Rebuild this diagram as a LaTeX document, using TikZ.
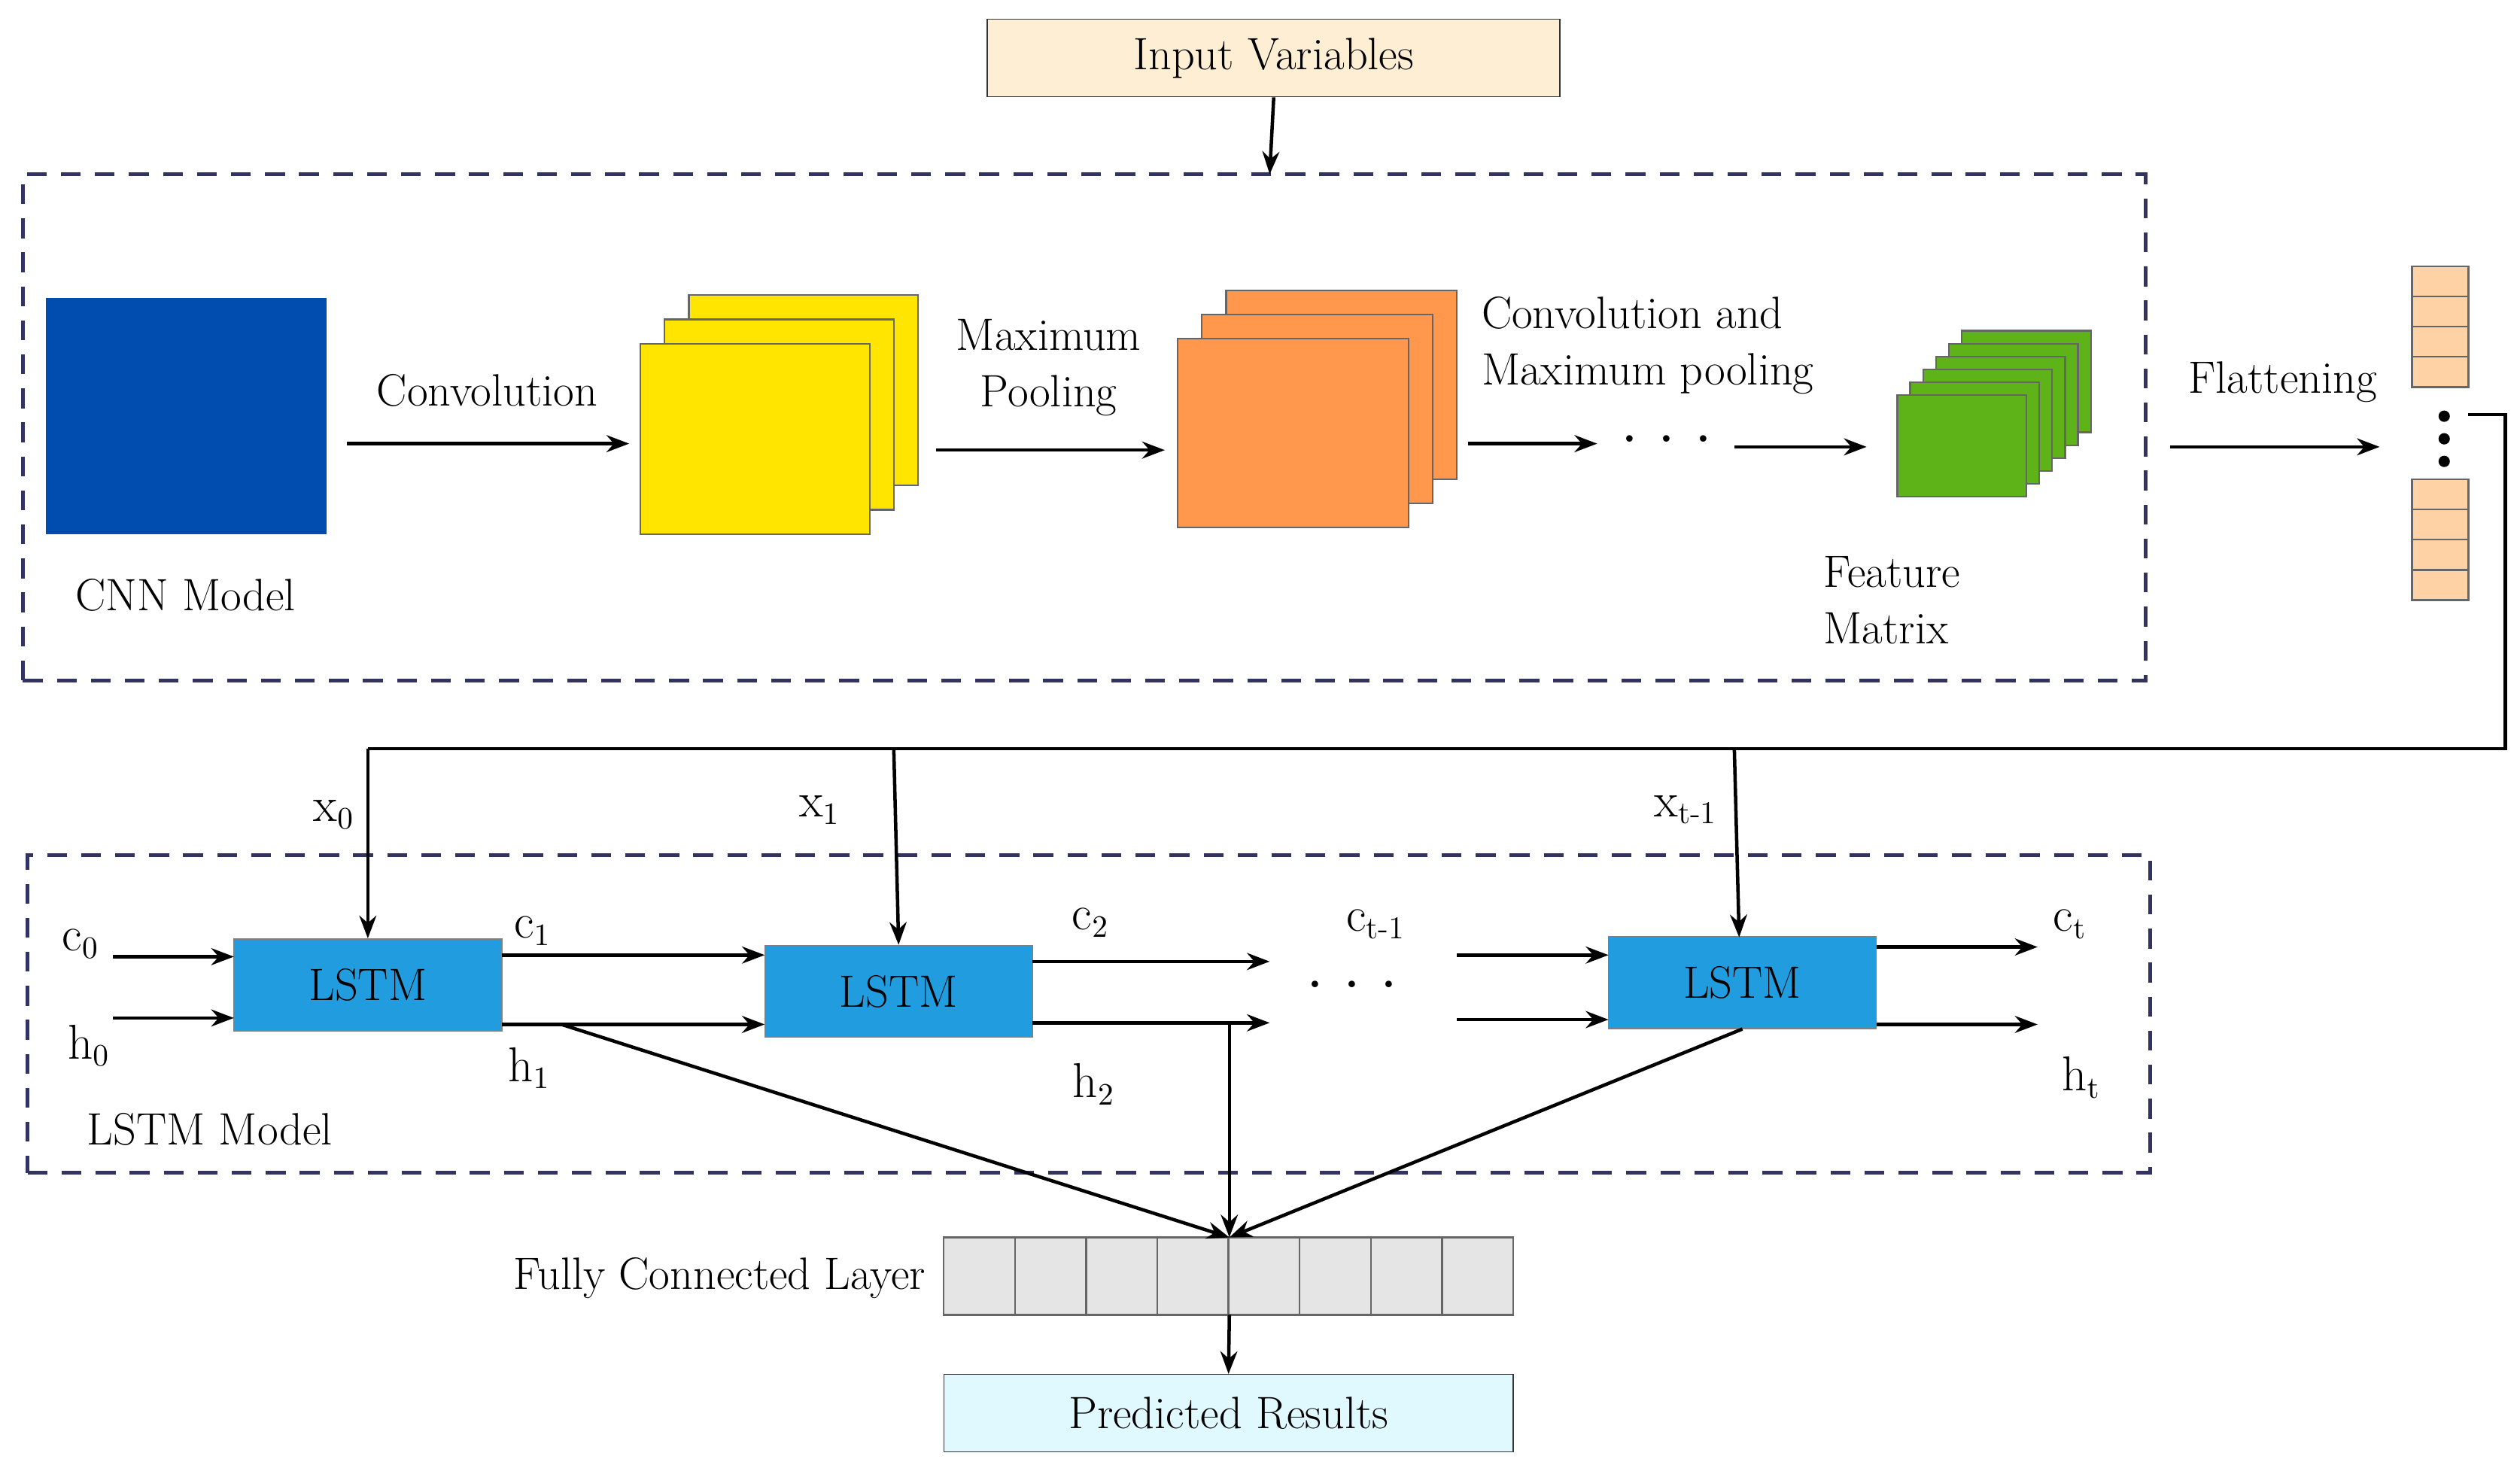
\documentclass[tikz,border=0pt]{standalone}
\usepackage{amsmath}
\usetikzlibrary{arrows.meta}
\begin{document}
\begin{tikzpicture}[x=0.02cm,y=-0.02cm,
  every node/.style={font=\fontsize{16}{18}\selectfont},
  arr/.style={-{Stealth[length=8pt,width=6pt]},line width=1.2pt},
  ln/.style={line width=1.2pt},
  dbox/.style={draw=black!70!blue!60!gray,dashed,line width=1.4pt,dash pattern=on 7pt off 5pt},
  fm/.style={draw=black!60,line width=0.6pt},
  lstm/.style={fill=cyan!80!blue!90,draw=black!50,minimum width=3.32cm,minimum height=1.14cm,inner sep=0pt},
  cell/.style={draw=black!60,line width=0.6pt,fill=gray!20}]
\useasboundingbox (0,0) rectangle (1562,908);
% input
\node[draw=black!80,fill=yellow!20!orange!15,minimum width=7.1cm,minimum height=0.96cm,inner sep=0pt] (in) at (789.5,36) {Input Variables};
\node[dbox,minimum width=26.32cm,minimum height=6.28cm,inner sep=0pt] (top) at (672,265) {};
\draw[arr] (in.south) -- (787,108);
% CNN
\node[fill=blue!70!black!60!cyan,draw=gray,minimum width=3.46cm,minimum height=2.92cm,inner sep=0pt] (cnn) at (115.5,258) {};
\fill[fill=blue!55!black!70!cyan!100] (cnn.south west) rectangle (cnn.north east);
\node (cnnl) at (115,369) {CNN Model};
\node (conv) at (302,242) {Convolution};
\coordinate (a1s) at (215,275); \coordinate (a1e) at (390,275);
\draw[arr] (a1s) -- (a1e);
\foreach \d in {30,15,0}{\draw[fm,fill=orange!20!yellow!100] (397+\d,213-\d) rectangle (539+\d,331-\d);}
\node[align=center,inner sep=0pt] (mp) at (650,228) {Maximum\\[2pt]Pooling};
\coordinate (a2s) at (580,279); \coordinate (a2e) at (722,279);
\draw[arr] (a2s) -- (a2e);
\foreach \d in {30,15,0}{\draw[fm,fill=orange!85!red!70!white] (730+\d,210-\d) rectangle (873+\d,327-\d);}
\node[align=left,anchor=west,inner sep=0pt] (cmp) at (918,214) {Convolution and\\[2pt]Maximum pooling};
\coordinate (a3s) at (910,275); \coordinate (a3e) at (990,275);
\draw[arr] (a3s) -- (a3e);
\node (dots1) at (1033,272) {\textbf{. . .}};
\coordinate (a4s) at (1075,277); \coordinate (a4e) at (1157,277);
\draw[arr] (a4s) -- (a4e);
\foreach \d in {40,32,24,16,8,0}{\draw[fm,fill=green!45!black!60!lime!90] (1176+\d,245-\d) rectangle (1256+\d,308-\d);}
\node[align=left,anchor=west,inner sep=0pt] (fmx) at (1130,372) {Feature\\[2pt]Matrix};
\node (flat) at (1415,237) {Flattening};
\coordinate (a5s) at (1345,277); \coordinate (a5e) at (1475,277);
\draw[arr] (a5s) -- (a5e);
\foreach \i in {0,1,2,3}{
 \draw[fm,fill=orange!35] (1495,165+\i*18.75) rectangle (1530,165+\i*18.75+18.75);
 \draw[fm,fill=orange!35] (1495,297+\i*18.75) rectangle (1530,297+\i*18.75+18.75);}
\foreach \y in {258,272,286}{\fill (1515,\y) circle (2pt);}
\coordinate (v) at (1530,257);
\coordinate (b0) at (228,464); \coordinate (b1) at (554,464); \coordinate (b2) at (1075,464);
\draw[ln] (v) -- (1553,257) -- (1553,464) -- (b0);
% LSTM box
\node[dbox,minimum width=26.32cm,minimum height=3.94cm,inner sep=0pt] (bot) at (675,628.5) {};
\node[lstm] (L1) at (228,610.5) {LSTM};
\node[lstm] (L2) at (557,614.5) {LSTM};
\node[lstm] (L3) at (1080,609) {LSTM};
\draw[arr] (b0) -- (L1.north);
\draw[arr] (b1) -- (L2.north);
\draw[arr] (b2) -- (1078,581);
\node (x0) at (207,505) {$\mathrm{x}_0$};
\node (x1) at (508,502) {$\mathrm{x}_1$};
\node (xt) at (1045,502) {$\mathrm{x}_{\text{t-1}}$};
\node (c0) at (50,585) {$\mathrm{c}_0$};
\node (h0) at (55,648) {$\mathrm{h}_0$};
\draw[arr] (70,593) -- (145,593);
\draw[arr] (70,631) -- (145,631);
\node (c1) at (330,577) {$\mathrm{c}_1$};
\node (h1) at (328,662) {$\mathrm{h}_1$};
\draw[arr] (311,592) -- (474,592);
\draw[arr] (311,635) -- (474,635);
\node (c2) at (676,572) {$\mathrm{c}_2$};
\node (h2) at (678,672) {$\mathrm{h}_2$};
\draw[arr] (640,596) -- (787,596);
\draw[arr] (640,634) -- (787,634);
\node (ct1) at (853,573) {$\mathrm{c}_{\text{t-1}}$};
\node (dots2) at (838,610) {\textbf{. . .}};
\draw[arr] (903,592) -- (997,592);
\draw[arr] (903,632) -- (997,632);
\node (ct) at (1283,573) {$\mathrm{c}_\mathrm{t}$};
\node (ht) at (1290,668) {$\mathrm{h}_\mathrm{t}$};
\draw[arr] (1163,587) -- (1263,587);
\draw[arr] (1163,635) -- (1263,635);
\node (lm) at (130,700) {LSTM Model};
% FC
\foreach \i in {0,...,7}{\node[cell,minimum width=0.8825cm,minimum height=0.96cm,inner sep=0pt] (f\i) at (607+\i*44.125,791) {};}
\coordinate (fc) at (762,767);
\node[anchor=east] (fcl) at (580,792) {Fully Connected Layer};
\draw[arr] (348,635) -- (fc);
\draw[arr] (762,634) -- (fc);
\draw[arr] (L3.south) -- (fc);
\node[draw=black!80,fill=blue!18!cyan!12,minimum width=7.06cm,minimum height=0.96cm,inner sep=0pt] (pr) at (761.5,876) {Predicted Results};
\draw[arr] (762,815) -- (pr.north);
\end{tikzpicture}
\end{document}
